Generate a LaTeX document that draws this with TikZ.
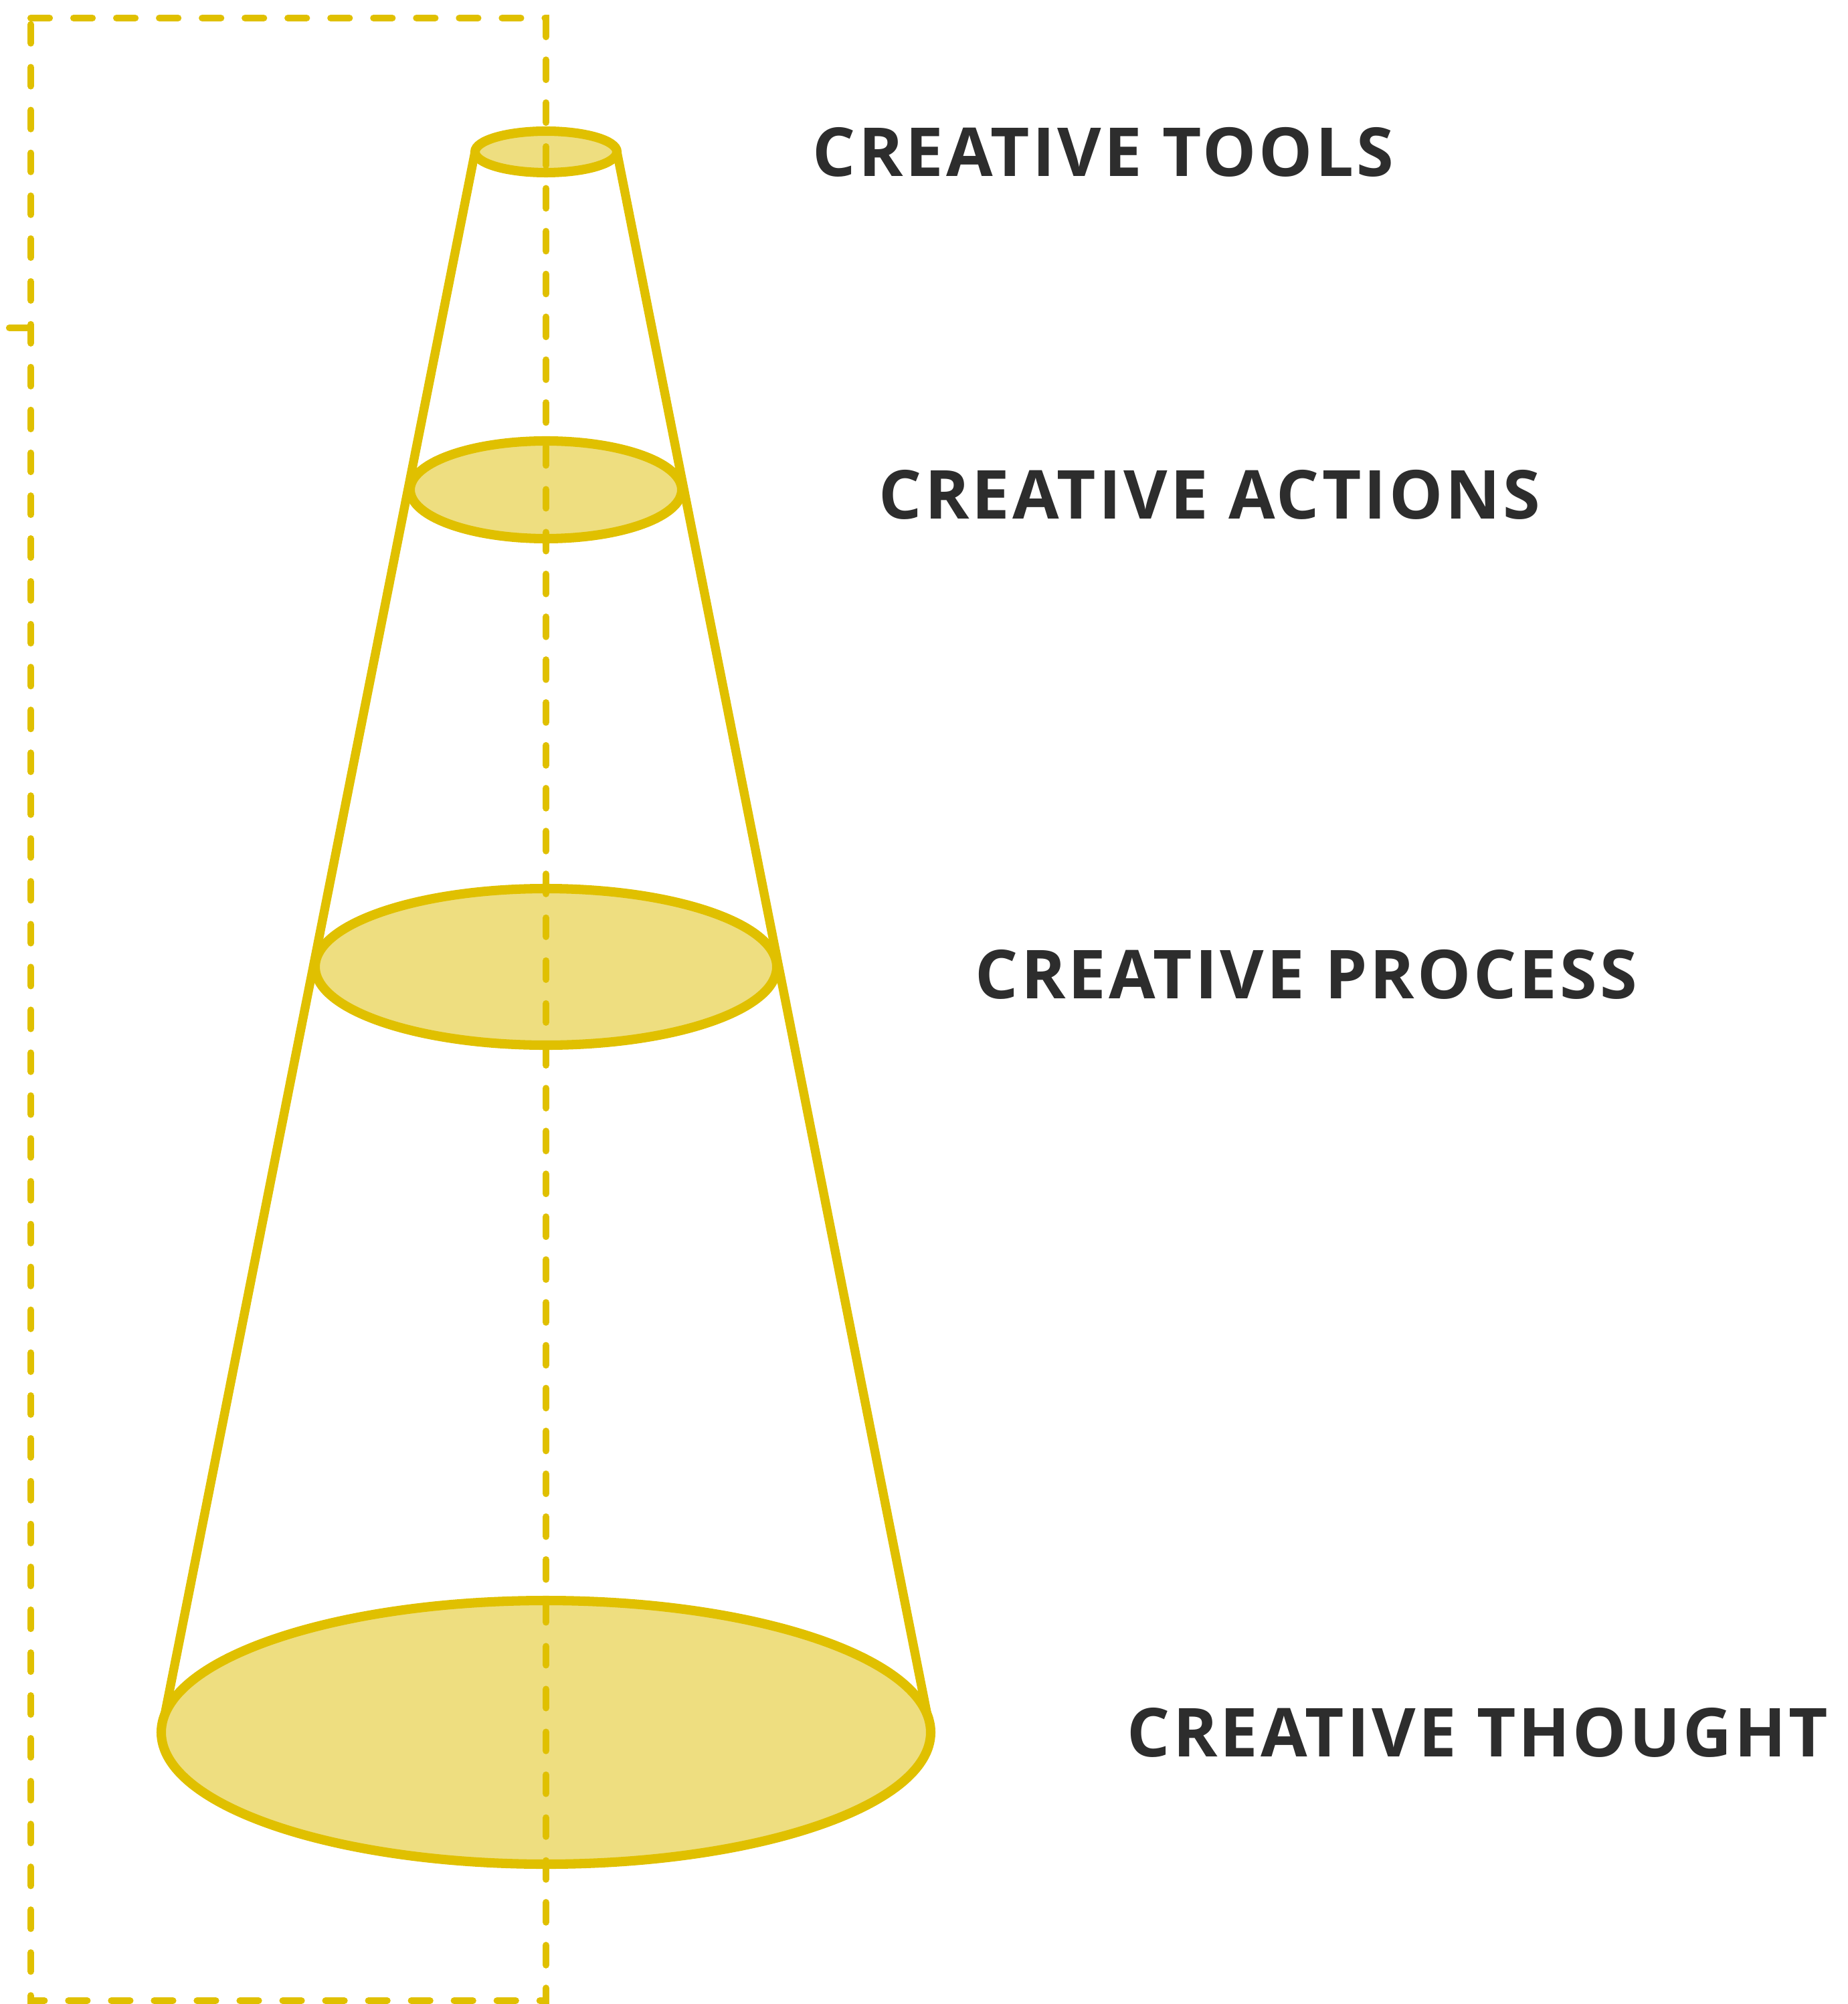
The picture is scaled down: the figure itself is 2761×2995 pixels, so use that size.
\documentclass[tikz,border=0pt]{standalone}
\usepackage{fontspec}
\newfontfamily\labelfont[LetterSpace=4]{Open Sans Bold}
\definecolor{conestroke}{RGB}{224,192,0}
\definecolor{conefill}{RGB}{238,222,128}
\definecolor{labeltext}{RGB}{45,45,45}
\begin{document}
\begin{tikzpicture}[x=0.01cm,y=-0.01cm,
  guide/.style={draw=conestroke,line width=2.9pt,line cap=round,dash pattern=on 7.97pt off 10.24pt},
  side/.style={draw=conestroke,line width=3.8pt,line cap=round},
  tick/.style={draw=conestroke,line width=2.9pt,line cap=round},
  disc/.style={draw=conestroke,fill=conefill,line width=4pt},
  lvl/.style={anchor=west,inner sep=0pt,text=labeltext,font=\labelfont\fontsize{28.7pt}{30pt}\selectfont}]
\useasboundingbox (0,0) rectangle (2761,2995);
% guide rectangle
\draw[guide] (46,27) -- (816,27) -- (816,2990) -- (46,2990) -- cycle;
\draw[tick] (14,490) -- (46,490);
% ellipse centres
\coordinate (c1) at (816,227);
\coordinate (c2) at (816,732);
\coordinate (c3) at (816,1445);
\coordinate (c4) at (816,2589);
% cone sides
\coordinate (tl) at (710,227);
\coordinate (tr) at (922,227);
\coordinate (bl) at (241,2589);
\coordinate (br) at (1391,2589);
\draw[side] (tl) -- (bl);
\draw[side] (tr) -- (br);
% discs
\draw[disc] (c1) ellipse [x radius=106, y radius=31];
\draw[disc] (c2) ellipse [x radius=203, y radius=73];
\draw[disc] (c3) ellipse [x radius=345, y radius=117];
\draw[disc] (c4) ellipse [x radius=575, y radius=197];
% axis over discs
\draw[guide] (816,27) -- (816,2990);
% labels
\node[lvl] (t1) at (1214,227) {CREATIVE TOOLS};
\node[lvl] (t2) at (1313,739) {CREATIVE ACTIONS};
\node[lvl] (t3) at (1457,1456) {CREATIVE PROCESS};
\node[lvl] (t4) at (1684,2589) {CREATIVE THOUGHT};
\end{tikzpicture}
\end{document}
